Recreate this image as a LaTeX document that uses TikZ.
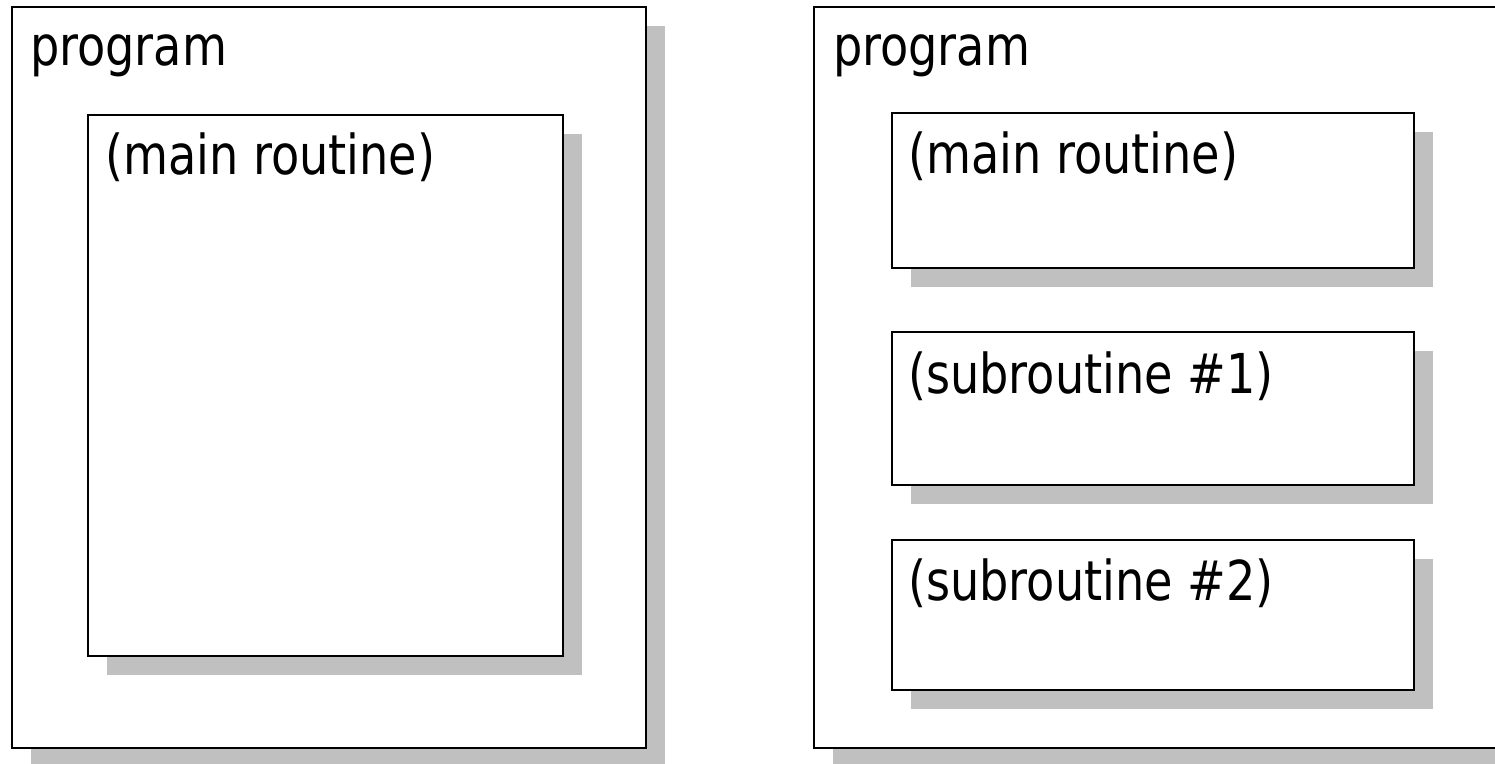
\documentclass[tikz,border=0pt]{standalone}
\usepackage{fontspec}
\setmainfont[FakeStretch=0.84]{DejaVu Sans}
\usetikzlibrary{shadows}
\definecolor{shadowgray}{RGB}{192,192,192}
\begin{document}
\begin{tikzpicture}[x=1bp,y=-1bp,
  panel/.style={draw=black, line width=2bp, fill=white, rectangle,
    inner sep=0pt, outer sep=0pt, anchor=north west,
    drop shadow={shadow xshift=19bp, shadow yshift=-19bp,
      fill=shadowgray, opacity=1}},
  caption/.style={anchor=base west, inner sep=0pt, outer sep=0pt,
    font=\fontsize{55bp}{62bp}\selectfont}]
\useasboundingbox (0,0) rectangle (1495,763);
\clip (0,0) rectangle (1495,763);

% left: one program holding only a main routine
\node[panel, minimum width=634bp, minimum height=741bp] (progL) at (12,7) {};
\node[caption] (progLtxt) at (30,66) {program};
\node[panel, minimum width=475bp, minimum height=541bp] (mainL) at (88,115) {};
\node[caption] (mainLtxt) at (105,174) {(main routine)};

% right: the program split into a main routine and subroutines
\node[panel, minimum width=720bp, minimum height=741bp] (progR) at (814,7) {};
\node[caption] (progRtxt) at (833,66) {program};
\node[panel, minimum width=522bp, minimum height=155bp] (mainR) at (892,113) {};
\node[caption] (mainRtxt) at (908,173) {(main routine)};
\node[panel, minimum width=522bp, minimum height=153bp] (subA) at (892,332) {};
\node[caption] (subAtxt) at (908,393) {(subroutine \#1)};
\node[panel, minimum width=522bp, minimum height=150bp] (subB) at (892,540) {};
\node[caption] (subBtxt) at (908,600) {(subroutine \#2)};
\end{tikzpicture}
\end{document}
